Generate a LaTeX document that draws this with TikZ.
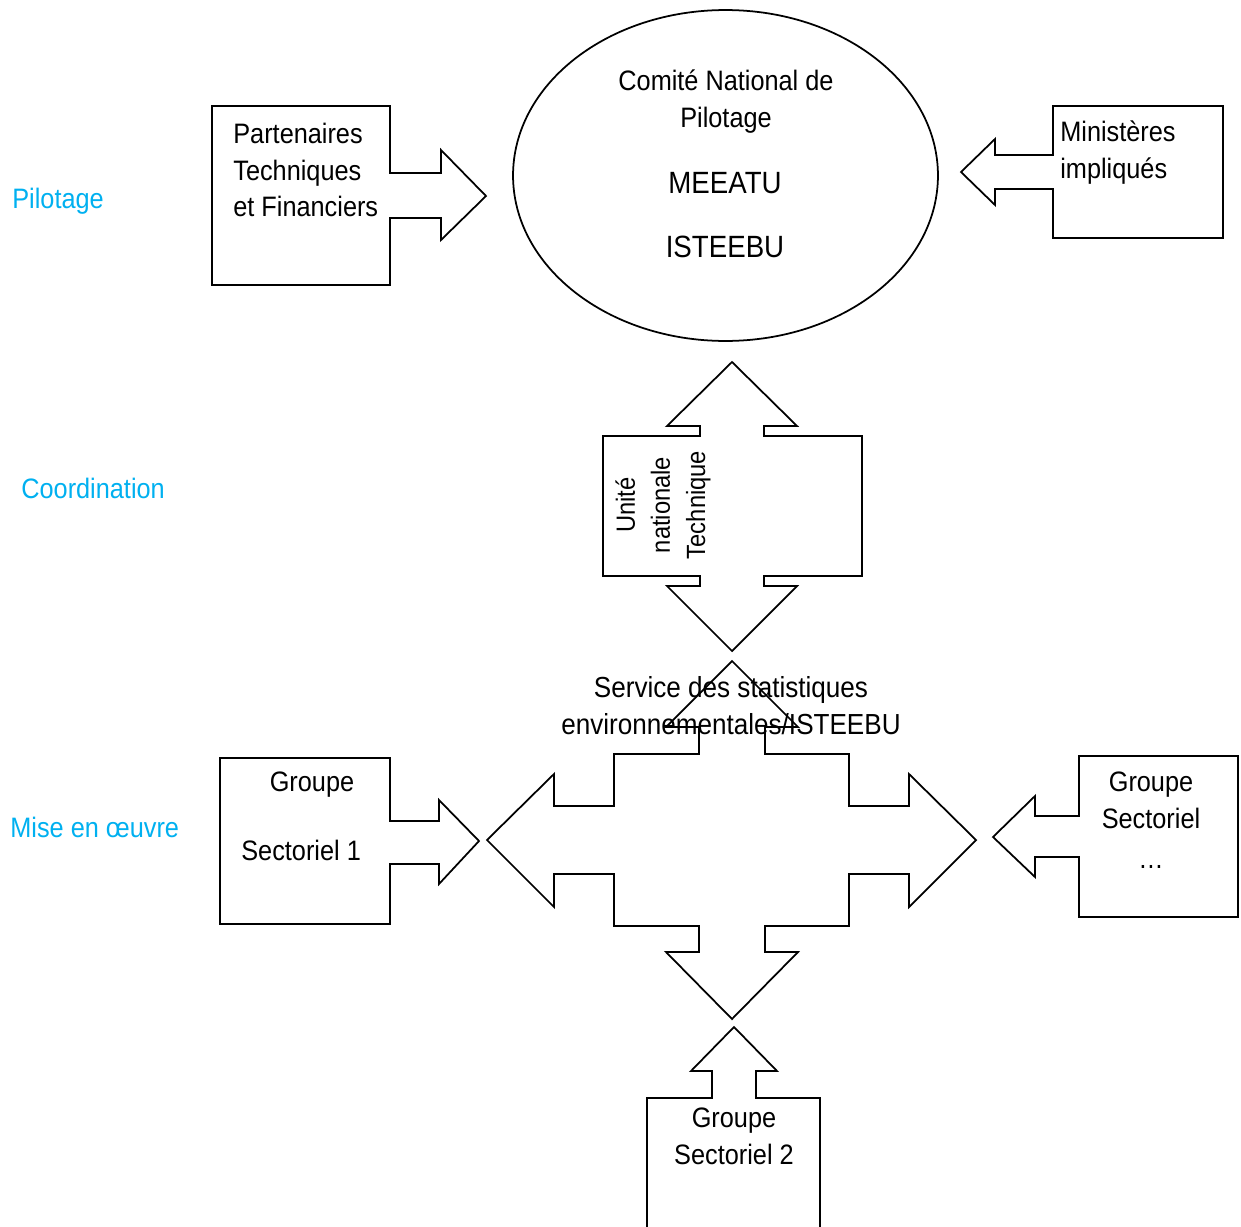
\documentclass[tikz,border=0pt]{standalone}
\usepackage{fontspec}
\setmainfont{Liberation Sans}[FakeStretch=0.9]
\usepackage{tikz}
\usetikzlibrary{shapes.geometric}
\definecolor{phasecyan}{HTML}{00B0F0}

\begin{document}
\begin{tikzpicture}[
    % 以像素為單位
    x=0.02cm, y=-0.02cm,
    % --- 定義樣式 ---
    % 箭頭圖說外框
    callout/.style={
        draw=black,
        line width=1pt,
        line join=miter
    },
    % 一般文字
    txt/.style={
        inner sep=0pt,
        align=center,
        font=\fontsize{16}{21}\selectfont
    },
    % 左側階段標籤
    phase/.style={
        inner sep=0pt,
        anchor=west,
        text=phasecyan,
        font=\fontsize{16}{21}\selectfont
    }
]
\useasboundingbox (0,0) rectangle (1241,1227);

% --- 左側階段 ---
\node[phase] (pil) at (12,201) {Pilotage};
\node[phase] (coo) at (21,488) {Coordination};
\node[phase] (mise) at (10,827) {Mise en œuvre};

% --- 繪製圖說 ---
% 橢圓 Comité
\node[ellipse, draw=black, line width=1pt, minimum width=8.5cm, minimum height=6.62cm] (cnp) at (725.5,175.5) {};
\node[txt] (cnpa) at (726,102) {Comité National de\\Pilotage};
\node[txt, font=\fontsize{17.5}{21}\selectfont] (cnpb) at (725,183) {MEEATU};
\node[txt, font=\fontsize{17.5}{21}\selectfont] (cnpc) at (725,247) {ISTEEBU};

% 左方 PTF
\draw[callout] (212,106) -- (390,106) -- (390,173) -- (441,173) -- (441,150)
    -- (486,196) -- (441,240) -- (441,218) -- (390,218) -- (390,285)
    -- (212,285) -- cycle;
\node[txt, anchor=west, align=left] (ptf) at (233,170) {Partenaires\\Techniques\\et Financiers};

% 右方 Ministères
\draw[callout] (1053,106) -- (1223,106) -- (1223,238) -- (1053,238) -- (1053,189)
    -- (995,189) -- (995,205) -- (961,172) -- (995,139) -- (995,155)
    -- (1053,155) -- cycle;
\node[txt, anchor=west, align=left] (min) at (1060,153) {Ministères\\impliqués};

% 中間 Unité
\draw[callout] (603,436) -- (700,436) -- (700,426) -- (667,426) -- (732,362)
    -- (797,426) -- (764,426) -- (764,436) -- (862,436) -- (862,576)
    -- (764,576) -- (764,586) -- (797,586) -- (732,651) -- (667,586)
    -- (700,586) -- (700,576) -- (603,576) -- cycle;
\node[txt, rotate=90, font=\fontsize{15}{20}\selectfont] (unt) at (663,505) {Unité\\nationale\\Technique};

% 四向箭頭 Service
\draw[callout] (732,661) -- (798,727) -- (765,727) -- (765,754) -- (849,754)
    -- (849,806) -- (909,806) -- (909,774) -- (976,840) -- (909,907)
    -- (909,874) -- (849,874) -- (849,926) -- (765,926) -- (765,952)
    -- (798,952) -- (732,1019) -- (666,952) -- (699,952) -- (699,926)
    -- (614,926) -- (614,874) -- (554,874) -- (554,907) -- (487,840)
    -- (554,774) -- (554,806) -- (614,806) -- (614,754) -- (699,754)
    -- (699,727) -- (666,727) -- cycle;
\node[txt, font=\fontsize{16.5}{21}\selectfont] (sse) at (731,706) {Service des statistiques\\environnementales/ISTEEBU};

% Groupe Sectoriel 1
\draw[callout] (220,758) -- (390,758) -- (390,821) -- (439,821) -- (439,800)
    -- (479,841) -- (439,884) -- (439,864) -- (390,864) -- (390,924)
    -- (220,924) -- cycle;
\node[txt] (gsa) at (312,785) {Groupe};
\node[txt, anchor=west] (gsb) at (241,850) {Sectoriel 1};

% Groupe Sectoriel ...
\draw[callout] (1079,756) -- (1238,756) -- (1238,917) -- (1079,917) -- (1079,857)
    -- (1035,857) -- (1035,877) -- (993,837) -- (1035,796) -- (1035,816)
    -- (1079,816) -- cycle;
\node[txt] (gsn) at (1151,820) {Groupe\\Sectoriel\\[2pt]…};

% Groupe Sectoriel 2
\draw[callout] (647,1240) -- (647,1098) -- (712,1098) -- (712,1071) -- (691,1071)
    -- (734,1027) -- (777,1071) -- (756,1071) -- (756,1098) -- (820,1098)
    -- (820,1240);
\node[txt] (gsc) at (734,1136) {Groupe\\Sectoriel 2};

\end{tikzpicture}
\end{document}
